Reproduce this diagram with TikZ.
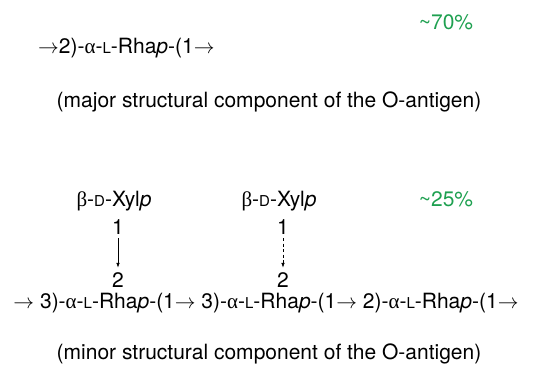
\documentclass[tikz,border=0pt]{standalone}
\usepackage{fontspec}
\setmainfont{TeX Gyre Heros}
\newfontfamily\grk{Liberation Serif}
\usetikzlibrary{arrows.meta}
\definecolor{pctgreen}{RGB}{30,160,80}
% small-capital configuration letters (L, D)
\newcommand{\cfg}[1]{{\fontsize{15}{16}\selectfont #1}}
\newcommand{\ra}{$\rightarrow$}
\newcommand{\gA}{{\grk α}}
\newcommand{\gB}{{\grk β}}
\tikzset{
  txt/.style={inner sep=0pt, font=\fontsize{21}{24}\selectfont},
  pct/.style={txt, text=pctgreen},
  link/.style={-{Latex[length=5pt,width=3.5pt]}, line width=0.7pt, shorten <=3.5pt, shorten >=4.5pt}
}
\begin{document}
\begin{tikzpicture}[x=1pt,y=1pt]
\useasboundingbox (0,0) rectangle (533,377);
% major repeating unit
\node[pct] (p70) at (446,355) {\textasciitilde 70\%};
\node[txt, anchor=west] (major) at (38,329) {\ra2)-\gA-\cfg{L}-Rha\textit{p}-(1\ra};
\node[txt] (majorcap) at (269,275) {(major structural component of the O-antigen)};
% minor repeating unit with xylose branches
\node[txt] (xyl1) at (114,176) {\gB-\cfg{D}-Xyl\textit{p}};
\node[txt] (xyl2) at (279,176) {\gB-\cfg{D}-Xyl\textit{p}};
\node[pct] (p25) at (446,178) {\textasciitilde 25\%};
\node[txt] (one1) at (118,150) {1};
\node[txt] (one2) at (283,150) {1};
\node[txt] (two1) at (118,97) {2};
\node[txt] (two2) at (283,97) {2};
\draw[link] (one1) -- (two1);
\draw[link, dashed, dash pattern=on 3pt off 2.5pt] (one2) -- (two2);
\node[txt] (minor) at (266,74) {\ra\ 3)-\gA-\cfg{L}-Rha\textit{p}-(1\ra\ 3)-\gA-\cfg{L}-Rha\textit{p}-(1\ra\ 2)-\gA-\cfg{L}-Rha\textit{p}-(1\ra};
\node[txt] (minorcap) at (269,23) {(minor structural component of the O-antigen)};
\end{tikzpicture}
\end{document}
